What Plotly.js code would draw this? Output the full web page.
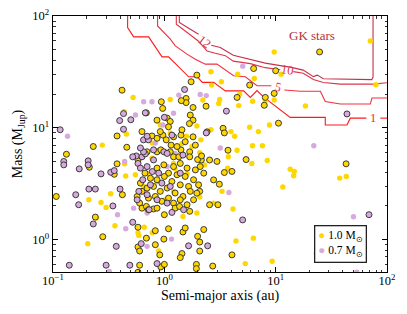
<!DOCTYPE html>
<html>
<head>
<meta charset="utf-8">
<script src="https://cdn.plot.ly/plotly-3.0.1.min.js"></script>
<style>html,body{margin:0;padding:0;background:#fff;}#plot{width:407px;height:314px;}</style>
</head>
<body>
<div id="plot"></div>
<script>
// ---- data: [semi-major axis (au), mass (M_Jup)] ----
// 1.0 Msun, no outline
const sunPlain = [
 [70.8,59.8],[9.7,47.7],[4.56,30.2],[11.2,30.2],[2.62,31.7],[3.25,25.8],[2.66,24.1],[6.43,27.6],[79.6,24.3],
 [3.14,17.9],[3.08,16.5],[2.22,17.7],[0.524,18.7],[1.13,17.9],[4.66,15.8],[4.75,20.0],[6.21,17.3],[8.07,17.5],
 [9.7,17.7],[18.5,15.7],[0.435,13.9],[1.96,10.4],[5.84,10.1],[8.8,10.6],[7.0,9.25],[0.456,8.8],[0.277,7.0],
 [1.13,9.0],[1.58,8.4],[2.62,9.6],[3.97,9.25],[4.28,8.4],[6.2,6.9],[7.6,6.9],[4.5,6.3],[0.44,4.76],[0.775,5.34],
 [2.08,6.0],[3.76,5.5],[6.1,4.8],[8.4,5.1],[2.30,4.66],[3.7,4.35],[13.5,4.26],[14.7,4.06],[14.5,3.72],[43.1,3.67],
 [37.6,3.55],[11.6,2.95],[0.21,2.27],[0.27,2.15],[0.30,1.94],[0.33,2.57],[2.08,2.40],[2.77,2.12],[3.3,2.7],
 [4.14,1.88],[0.245,1.56],[0.36,1.33],[0.58,1.15],[0.59,1.09],[0.66,1.29],[0.205,0.92],[0.89,0.79],[4.4,0.97],
 [6.3,1.03],[5.33,0.61],[9.3,0.64],[0.45,3.7],[0.86,3.3],[1.21,2.7],[1.47,1.61],[1.02,2.27],[0.78,7.3],[1.44,7.2],
 [1.77,6.8],[2.13,7.8],[0.55,3.8],[0.65,3.0],[1.6,3.9],[1.25,4.3],[0.92,10.6],[0.7,3.9],[1.96,1.73],[0.78,1.15],[1.21,4.8]
];
// 0.7 Msun, no outline
const kPlain = [
 [5.06,35.6],[2.10,19.9],[2.38,19.4],[1.35,19.6],[0.652,17.1],[0.774,17.1],[1.21,13.5],[0.55,13.0],[0.97,10.6],
 [0.135,8.4],[22.0,6.9],[0.44,5.0],[3.8,2.64],[0.38,1.67],[0.45,1.25],[0.70,1.03],[1.16,1.01],[50.0,1.6],[23.2,0.75],
 [0.32,0.52],[53.5,0.51],[3.18,6.6],[1.06,4.5],[0.83,7.3],[1.25,5.9],[0.70,1.73],[0.53,1.91],[0.70,0.87]
];
// 1.0 Msun, outlined
const sunEdge = [
 [24.8,47.7],[6.34,33.9],[10.0,32.4],[1.96,29.6],[5.84,24.1],[1.74,25.8],[0.417,21.7],[1.57,18.3],[1.57,16.8],
 [0.94,17.1],[0.966,14.9],[1.42,17.5],[1.81,15.2],[2.37,15.6],[4.50,18.7],[8.07,18.7],[7.9,15.9],[9.7,20.3],
 [0.689,13.6],[0.859,11.7],[1.06,12.2],[1.13,11.4],[1.71,13.0],[1.81,11.7],[1.68,10.9],[10.6,11.0],[0.376,8.45],
 [0.23,6.8],[0.46,6.7],[3.37,9.9],[3.46,9.0],[2.42,9.2],[3.73,6.3],[0.775,8.45],[0.63,9.25],[0.97,8.6],[1.21,8.3],
 [1.41,8.6],[1.81,8.3],[0.132,5.8],[0.212,4.44],[0.355,3.84],[5.42,5.2],[2.97,5.0],[2.55,5.15],[2.15,5.15],
 [3.46,3.98],[4.05,4.07],[2.77,3.42],[42.9,4.76],[3.12,3.13],[2.55,2.05],[3.03,2.05],[0.107,2.43],[0.24,1.59],
 [0.42,2.52],[0.58,1.29],[0.83,1.2],[1.09,1.25],[0.99,1.01],[1.47,1.17],[1.54,1.27],[1.99,1.07],[2.08,0.95],
 [2.08,0.79],[2.26,1.23],[1.44,0.75],[1.39,0.69],[0.83,0.9],[0.69,1.03],[0.58,0.86],[0.28,1.06],[0.6,0.79],
 [0.91,0.73],[4.05,0.73],[0.6,0.59],[0.93,0.57],[1.0,0.6],[1.94,0.6],[1.94,0.55],[2.72,0.58],[0.58,0.51],
 [0.86,6.1],[0.93,6.35],[1.13,6.1],[1.21,5.5],[1.35,5.5],[1.41,6.35],[1.69,6.1],[1.69,5.5],[1.99,5.2],[2.16,5.6],
 [0.70,6.1],[0.58,5.16],[0.376,4.76],[1.21,4.5],[1.39,4.8],[1.6,4.36],[1.9,4.2],[2.1,4.5],[0.86,4.36],[0.99,4.66],
 [1.09,3.93],[1.3,3.8],[1.54,3.67],[1.83,3.43],[2.26,3.93],[0.67,3.93],[0.75,3.54],[0.86,3.43],[1.0,3.67],[1.17,3.31],
 [1.39,3.09],[1.65,2.99],[2.03,3.09],[0.61,3.2],[0.70,2.89],[0.80,2.99],[0.92,2.7],[1.06,2.89],[1.25,2.61],[1.47,2.43],
 [1.71,2.7],[2.08,2.7],[0.57,2.43],[0.63,2.7],[0.72,2.35],[0.83,2.43],[0.95,2.2],[1.09,2.35],[1.21,2.12],[1.39,2.27],
 [1.6,2.05],[1.83,2.27],[0.6,2.12],[0.63,1.91],[0.69,1.98],[0.72,1.85],[0.80,1.88],[0.86,1.91],[1.0,1.67],[1.25,1.91],
 [1.37,1.98],[1.69,1.79],[1.96,2.6],[1.04,7.8],[1.15,7.0],[1.3,6.8],[1.54,7.5],[1.9,7.0],[0.86,8.06],[1.09,10.2],
 [0.92,9.25],[1.44,9.6]
];
// 0.7 Msun, outlined
const kEdge = [
 [1.52,22.0],[3.61,14.1],[43.7,13.3],[0.43,13.4],[0.397,11.6],[0.50,11.8],[0.675,13.6],[1.0,12.4],[0.116,9.6],
 [0.43,9.7],[2.38,9.0],[0.125,5.0],[0.125,4.66],[0.172,4.29],[0.207,5.06],[0.207,4.66],[0.27,3.87],[0.33,4.0],
 [0.355,4.14],[0.16,2.52],[0.17,2.05],[0.21,2.83],[0.24,2.83],[0.345,2.0],[0.40,2.83],[0.23,1.38],[0.52,1.43],
 [0.37,0.87],[0.62,0.92],[1.65,0.88],[2.45,0.88],[0.14,0.59],[0.30,0.59],[0.49,0.59],[68.9,1.67],[5.05,1.5],[0.86,0.61],
 [0.56,5.6],[0.63,5.5],[0.675,5.85],[0.65,6.1],[0.80,6.35],[0.99,6.1],[1.06,5.9],[1.47,5.7],[0.58,4.8],[0.52,5.5],
 [0.65,7.8],[0.72,7.8],[0.70,8.4],[1.17,8.6],[0.61,4.36],[0.70,4.5],[0.78,4.06],[0.89,3.93],[0.64,3.43],[0.75,3.09],
 [0.95,3.2],[1.13,2.99],[0.59,2.7],[0.70,2.52],[0.86,2.27],[1.06,2.12],[0.73,1.85],[1.17,1.75],[1.49,1.85],[0.57,2.27],
 [0.80,5.16],[0.61,6.6],[1.39,3.93]
];

// ---- contour lines (GK stars), a (au) / M (M_Jup) ----
const c1A  = [0.468,0.468,0.530,0.723,0.953,1.092,1.652,1.977,2.193,2.77,3.53,5.15,5.92,6.80,7.80,13.5,27.9,27.9,43.7,46.8,65.2,null,87.1,110];
const c1M  = [120,78.8,65.0,65.0,43.1,43.1,28.6,28.6,25.5,25.5,21.4,21.4,18.7,21.5,18.8,12.4,12.4,10.6,10.6,12.2,12.2,null,12.2,12.2];
const c5A  = [0.870,0.870,1.132,1.255,1.598,1.897,2.333,2.97,4.19,5.34,6.80,9.14,null,11.96,16.6,25.2,27.9,38.1,70.8,73.3,110];
const c5M  = [120,81.4,62.0,54.0,45.6,41.1,37.1,37.1,29.2,28.6,23.8,23.8,null,21.8,21.2,21.2,17.2,16.3,16.3,18.5,18.5];
const c10A = [1.281,1.281,2.018,2.416,2.87,3.53,4.16,5.92,8.07,11.0,null,14.4,17.7,21.8,26.8,38.1,73.8,110];
const c10M = [120,84.3,59.8,48.7,46.5,44.2,39.5,37.5,34.5,33.1,null,31.8,30.8,27.0,25.4,24.6,24.6,25.5];
const c12A = [1.363,1.363,1.712,2.03,null,2.64,3.18,4.16,5.92,8.07,11.0,13.5,17.7,21.8,23.7,26.8,73.0,74.9,74.9];
const c12M = [120,87.4,76.1,68.7,null,54.8,52.3,44.6,40.7,37.9,36.0,34.9,32.8,28.7,29.6,27.5,27.0,28.4,120];

const contourLabels = ['1','5','10','12'];
const contourLabelA = [75.3, 10.45, 12.7, 2.29];
const contourLabelM = [12.2, 23.1, 33.1, 58.2];
const contourLabelAngle = [0, 15, 8, 38];
const contourColors = ['#fe1a1a','#f0303f','#de3448','#c8304a'];

const legendNames = ['1.0 M<sub>⊙</sub>', '0.7 M<sub>⊙</sub>'];

const xTickVals = [0.1, 1, 10, 100];
const xTickText = ['10<sup>−1</sup>','10<sup>0</sup>','10<sup>1</sup>','10<sup>2</sup>'];
const yTickVals = [1, 10, 100];
const yTickText = ['10<sup>0</sup>','10<sup>1</sup>','10<sup>2</sup>'];

const GOLD = '#ffd700', LILAC = '#d6aade', EDGE = '#2a2a2a';
const FONT = 'Liberation Serif, Times New Roman, serif';

function minorVals(lo, hi) {
  const v = [];
  for (let d = lo; d < hi; d *= 10) for (let k = 2; k <= 9; k++) v.push(k * d);
  return v;
}

const traces = [];
const cA = [c1A, c5A, c10A, c12A], cM = [c1M, c5M, c10M, c12M];
for (let i = 0; i < 4; i++) {
  traces.push({x: cA[i], y: cM[i], mode: 'lines', type: 'scatter', showlegend: false,
    connectgaps: false, hoverinfo: 'skip', line: {color: contourColors[i], width: 1.1}});
}
function pts(arr, name, color, edged) {
  return {
    x: arr.map(p => p[0]), y: arr.map(p => p[1]), type: 'scatter', mode: 'markers',
    name: name, showlegend: false,
    marker: {color: color, size: edged ? 6 : 5.4, line: {color: EDGE, width: edged ? 0.9 : 0}}
  };
}
traces.push(pts(sunPlain, legendNames[0], GOLD, false));
traces.push(pts(kPlain, legendNames[1], LILAC, false));
traces.push(pts(sunEdge, legendNames[0], GOLD, true));
traces.push(pts(kEdge, legendNames[1], LILAC, true));

const annotations = contourLabels.map((t, i) => ({
  x: Math.log10(contourLabelA[i]), y: Math.log10(contourLabelM[i]), xref: 'x', yref: 'y',
  text: t, showarrow: false, textangle: contourLabelAngle[i],
  font: {family: FONT, size: 12.5, color: contourColors[i]}
}));
annotations.push({x: Math.log10(21.3), y: Math.log10(67.3), xref: 'x', yref: 'y', text: 'GK stars',
  showarrow: false, font: {family: FONT, size: 13, color: '#b3303e'}});
// compact legend box (matplotlib style)
annotations.push({
  xref: 'paper', yref: 'paper', x: 0.94, y: 0.035, xanchor: 'right', yanchor: 'bottom',
  align: 'left', showarrow: false, bgcolor: '#fff', bordercolor: '#222', borderwidth: 1.3, borderpad: 3,
  font: {family: FONT, size: 11.5, color: '#000'},
  text: '<span style="color:' + GOLD + '">●</span> ' + legendNames[0] +
        '<br><span style="color:' + LILAC + '">●</span> ' + legendNames[1]
});

const axisCommon = {
  type: 'log', showgrid: false, zeroline: false, showline: true, linecolor: '#000', linewidth: 1.3,
  mirror: 'allticks', ticks: 'inside', ticklen: 5, tickwidth: 1, tickcolor: '#000',
  tickmode: 'array', tickfont: {family: FONT, size: 12.5, color: '#000'}
};

const layout = {
  width: 407, height: 314,
  margin: {l: 53, r: 20, t: 16, b: 42},
  paper_bgcolor: '#fff', plot_bgcolor: '#fff',
  font: {family: FONT, color: '#000'},
  xaxis: Object.assign({}, axisCommon, {
    range: [-1, 2], tickvals: xTickVals, ticktext: xTickText, ticklabelstandoff: -3,
    minor: {tickmode: 'array', tickvals: minorVals(0.1, 100), ticks: 'inside', ticklen: 2.5, tickcolor: '#000', tickwidth: 0.8},
    title: {text: 'Semi-major axis (au)', font: {family: FONT, size: 14}, standoff: 0}
  }),
  yaxis: Object.assign({}, axisCommon, {
    range: [Math.log10(0.513), 2], tickvals: yTickVals, ticktext: yTickText,
    minor: {tickmode: 'array', tickvals: minorVals(0.1, 100).filter(v => v > 0.51), ticks: 'inside', ticklen: 2.5, tickcolor: '#000', tickwidth: 0.8},
    title: {text: 'Mass (M<sub>Jup</sub>)', font: {family: FONT, size: 14}, standoff: 6}
  }),
  annotations: annotations,
  showlegend: false
};

Plotly.newPlot('plot', traces, layout, {staticPlot: true, displayModeBar: false});
</script>
</body>
</html>
